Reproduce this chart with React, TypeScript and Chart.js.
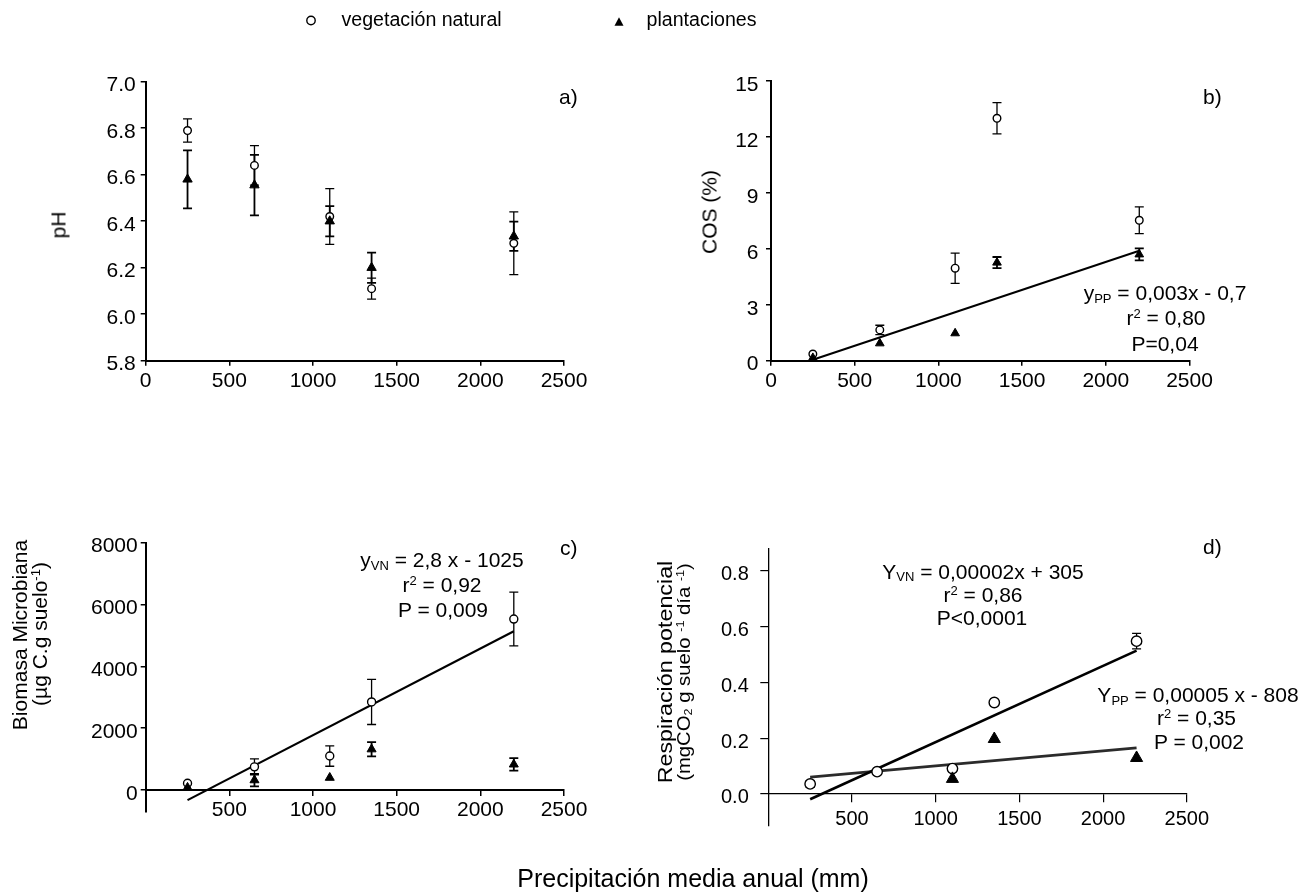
import React, { useEffect, useLayoutEffect, useRef, useState } from "react";
import { Chart, registerables } from "chart.js";

Chart.register(...registerables);

const FONT = "'Liberation Sans', Arial, Helvetica, sans-serif";
const W = 1308;
const H = 895;

// Mean annual precipitation of the five sites (mm)
const precipitation = [250, 650, 1100, 1350, 2200];

// a) pH
const phNatural = [6.79, 6.64, 6.42, 6.11, 6.305];
const phNaturalErr = [0.05, 0.085, 0.12, 0.045, 0.135];
const phPlantation = [6.58, 6.555, 6.4, 6.2, 6.335];
const phPlantationErr = [0.125, 0.13, 0.065, 0.065, 0.063];

// b) soil organic carbon (%)
const cosNatural = [0.36, 1.65, 4.96, 13.0, 7.53];
const cosNaturalErr = [0, 0.25, 0.81, 0.84, 0.72];
const cosPlantation = [0.15, 0.93, 1.47, 5.26, 5.7];
const cosPlantationErr = [0, 0, 0, 0.3, 0.32];
const cosFitX = [250, 2200];
const cosFitY = [0.05, 5.9]; // y = 0,003x - 0,7

// c) microbial biomass
const biomassNatural = [220, 750, 1100, 2850, 5530];
const biomassNaturalErr = [0, 260, 330, 730, 870];
const biomassPlantation = [80, 320, 400, 1320, 830];
const biomassPlantationErr = [0, 200, 0, 230, 200];
const biomassFitX = [250, 2200];
const biomassFitY = [-325, 5135]; // y = 2,8x - 1025

// d) potential respiration
const respNatural = [0.036, 0.08, 0.091, 0.328, 0.548];
const respNaturalErr = [0.012, 0, 0, 0, 0.028];
const respPlantation: (number | null)[] = [null, null, 0.054, 0.197, 0.129];
const respPlantationErr = [0, 0, 0, 0, 0];
const respFitX = [250, 2200];
const respFitNaturalY = [-0.019, 0.514];
const respFitPlantationY = [0.06, 0.165];

// Tick labels
const xTicksFrom0 = [0, 500, 1000, 1500, 2000, 2500];
const xTicksFrom500 = [500, 1000, 1500, 2000, 2500];
const phTicks = [5.8, 6.0, 6.2, 6.4, 6.6, 6.8, 7.0];
const cosTicks = [0, 3, 6, 9, 12, 15];
const biomassTicks = [0, 2000, 4000, 6000, 8000];
const respTicks = [0, 0.2, 0.4, 0.6, 0.8];

type Fit = { x: number[]; y: number[]; color: string; width: number };
type PanelSpec = {
  area: { left: number; right: number; top: number; bottom: number };
  yMin: number;
  yMax: number;
  yTicks: number[];
  yDecimals: number;
  xTicks: number[];
  xAtZero: boolean;
  tickLen: number;
  yPad: number;
  xPad: number;
  fontSize: number;
  axisWidth: number;
  tickWidth: number;
  natural: (number | null)[];
  naturalErr: number[];
  plantation: (number | null)[];
  plantationErr: number[];
  circleR: number;
  triR: number;
  fits: Fit[];
};

const Y_W = 80;
const X_H = 45;

const panels: PanelSpec[] = [
  {
    area: { left: 145.7, right: 564, top: 81.7, bottom: 360.7 },
    yMin: 5.8, yMax: 7.0, yTicks: phTicks, yDecimals: 1,
    xTicks: xTicksFrom0, xAtZero: false,
    tickLen: 5, yPad: 5, xPad: 2.5, fontSize: 21, axisWidth: 2, tickWidth: 1.5,
    natural: phNatural, naturalErr: phNaturalErr,
    plantation: phPlantation, plantationErr: phPlantationErr,
    circleR: 3.8, triR: 5.4, fits: [],
  },
  {
    area: { left: 771, right: 1189.5, top: 81, bottom: 360.7 },
    yMin: 0, yMax: 15, yTicks: cosTicks, yDecimals: 0,
    xTicks: xTicksFrom0, xAtZero: false,
    tickLen: 5, yPad: 7.5, xPad: 2.5, fontSize: 21, axisWidth: 2, tickWidth: 1.5,
    natural: cosNatural, naturalErr: cosNaturalErr,
    plantation: cosPlantation, plantationErr: cosPlantationErr,
    circleR: 3.8, triR: 5, fits: [{ x: cosFitX, y: cosFitY, color: "#000", width: 2 }],
  },
  {
    area: { left: 145.7, right: 564, top: 542.7, bottom: 811.7 },
    yMin: -700, yMax: 8000, yTicks: biomassTicks, yDecimals: 0,
    xTicks: xTicksFrom500, xAtZero: true,
    tickLen: 5, yPad: 3, xPad: 2.2, fontSize: 21, axisWidth: 2, tickWidth: 1.5,
    natural: biomassNatural, naturalErr: biomassNaturalErr,
    plantation: biomassPlantation, plantationErr: biomassPlantationErr,
    circleR: 4, triR: 5.2, fits: [{ x: biomassFitX, y: biomassFitY, color: "#000", width: 2.2 }],
  },
  {
    area: { left: 768.3, right: 1186.8, top: 548.3, bottom: 826 },
    yMin: -0.115, yMax: 0.881, yTicks: respTicks, yDecimals: 1,
    xTicks: xTicksFrom500, xAtZero: true,
    tickLen: 8, yPad: 11.5, xPad: 5.5, fontSize: 20, axisWidth: 1.3, tickWidth: 1.2,
    natural: respNatural, naturalErr: respNaturalErr,
    plantation: respPlantation, plantationErr: respPlantationErr,
    circleR: 5.2, triR: 7,
    fits: [
      { x: respFitX, y: respFitNaturalY, color: "#000", width: 2.6 },
      { x: respFitX, y: respFitPlantationY, color: "#2b2b2b", width: 2.8 },
    ],
  },
];

function points(values: (number | null)[]) {
  return values
    .map((v, i) => (v == null ? null : { x: precipitation[i], y: v }))
    .filter((p) => p !== null) as { x: number; y: number }[];
}

function makeChart(canvas: HTMLCanvasElement, p: PanelSpec) {
  // vertical error bars with caps, drawn underneath the markers
  const errorBars = {
    id: "errorBars",
    beforeDatasetsDraw(chart: any) {
      const { ctx, scales } = chart;
      const xs = scales.x;
      const ys = scales.y;
      const series = [
        { v: p.natural, e: p.naturalErr, w: 1.3 },
        { v: p.plantation, e: p.plantationErr, w: 1.8 },
      ];
      ctx.save();
      ctx.strokeStyle = "#000";
      for (const s of series) {
        ctx.lineWidth = s.w;
        s.v.forEach((v, i) => {
          const e = s.e[i];
          if (v == null || !e) return;
          const px = xs.getPixelForValue(precipitation[i]);
          const y1 = ys.getPixelForValue(v + e);
          const y2 = ys.getPixelForValue(v - e);
          ctx.beginPath();
          ctx.moveTo(px, y1);
          ctx.lineTo(px, y2);
          ctx.moveTo(px - 4.5, y1);
          ctx.lineTo(px + 4.5, y1);
          ctx.moveTo(px - 4.5, y2);
          ctx.lineTo(px + 4.5, y2);
          ctx.stroke();
        });
      }
      ctx.restore();
    },
  };

  const grid = {
    display: true,
    drawOnChartArea: false,
    drawTicks: true,
    tickLength: p.tickLen,
    color: "#000",
    lineWidth: p.tickWidth,
  };
  const border = { display: true, color: "#000", width: p.axisWidth };
  const font = { family: FONT, size: p.fontSize };

  return new Chart(canvas, {
    type: "scatter",
    data: {
      datasets: [
        ...p.fits.map((f) => ({
          type: "line" as const,
          data: f.x.map((xv, i) => ({ x: xv, y: f.y[i] })),
          borderColor: f.color,
          borderWidth: f.width,
          pointRadius: 0,
          fill: false,
          order: 3,
        })),
        {
          label: "vegetación natural",
          data: points(p.natural),
          pointStyle: "circle",
          pointRadius: p.circleR,
          pointBackgroundColor: "#fff",
          pointBorderColor: "#000",
          pointBorderWidth: 1.4,
          order: 2,
        },
        {
          label: "plantaciones",
          data: points(p.plantation),
          pointStyle: "triangle",
          pointRadius: p.triR,
          pointBackgroundColor: "#000",
          pointBorderColor: "#000",
          pointBorderWidth: 1,
          order: 1,
        },
      ] as any,
    },
    options: {
      animation: false,
      responsive: false,
      devicePixelRatio: 1,
      events: [],
      layout: {
        padding: {
          left: p.area.left - Y_W,
          right: W - p.area.right,
          top: p.area.top,
          bottom: p.xAtZero ? H - p.area.bottom : H - p.area.bottom - X_H,
        },
      },
      plugins: { legend: { display: false }, tooltip: { enabled: false } },
      scales: {
        x: {
          type: "linear",
          min: 0,
          max: 2500,
          position: (p.xAtZero ? { y: 0 } : "bottom") as any,
          afterFit: (s: any) => {
            if (!p.xAtZero) s.height = X_H;
          },
          afterBuildTicks: (s: any) => {
            s.ticks = p.xTicks.map((v) => ({ value: v }));
          },
          grid,
          border,
          ticks: {
            color: "#000",
            font,
            padding: p.xPad,
            maxRotation: 0,
            autoSkip: false,
            callback: (v: any) => String(v),
          },
        },
        y: {
          type: "linear",
          min: p.yMin,
          max: p.yMax,
          afterFit: (s: any) => {
            s.width = Y_W;
          },
          afterBuildTicks: (s: any) => {
            s.ticks = p.yTicks.map((v) => ({ value: v }));
          },
          grid,
          border,
          ticks: {
            color: "#000",
            font,
            padding: p.yPad,
            labelOffset: 4,
            autoSkip: false,
            callback: (v: any) => Number(v).toFixed(p.yDecimals),
          },
        },
      },
    },
    plugins: [errorBars],
  } as any);
}

function Panel({ spec }: { spec: PanelSpec }) {
  const ref = useRef<HTMLCanvasElement>(null);
  useEffect(() => {
    const chart = makeChart(ref.current!, spec);
    return () => chart.destroy();
  }, [spec]);
  return (
    <canvas
      ref={ref}
      width={W}
      height={H}
      style={{ position: "absolute", left: 0, top: 0, width: W, height: H }}
    />
  );
}

// Text placed by its baseline (line box = font size, Liberation Sans metrics)
function Txt({
  x, base, size, center, children,
}: { x: number; base: number; size: number; center?: boolean; children: React.ReactNode }) {
  return (
    <div
      style={{
        position: "absolute",
        left: x,
        top: base - 0.8465 * size,
        fontSize: size,
        lineHeight: `${size}px`,
        whiteSpace: "nowrap",
        transform: center ? "translateX(-50%)" : undefined,
      }}
    >
      {children}
    </div>
  );
}

// Vertical (rotated) text centred at (cx, cy); optionally stretched along the
// reading direction to a given length
function VTxt({
  cx, cy, size, length, children,
}: { cx: number; cy: number; size: number; length?: number; children: React.ReactNode }) {
  const ref = useRef<HTMLDivElement>(null);
  const [sx, setSx] = useState(1);
  useLayoutEffect(() => {
    if (length && ref.current && ref.current.offsetWidth > 0) {
      setSx(length / ref.current.offsetWidth);
    }
  }, [length]);
  return (
    <div
      ref={ref}
      style={{
        position: "absolute",
        left: cx,
        top: cy,
        fontSize: size,
        lineHeight: `${size}px`,
        whiteSpace: "nowrap",
        transform: `translate(-50%, -50%) rotate(-90deg) scaleX(${sx})`,
      }}
    >
      {children}
    </div>
  );
}

const Sub = ({ children }: { children: React.ReactNode }) => (
  <span style={{ fontSize: "0.62em", position: "relative", top: "0.2em" }}>{children}</span>
);
const Sup = ({ children }: { children: React.ReactNode }) => (
  <span style={{ fontSize: "0.62em", position: "relative", top: "-0.55em" }}>{children}</span>
);

export default function App() {
  return (
    <div
      style={{
        position: "absolute",
        left: 0,
        top: 0,
        width: W,
        height: H,
        overflow: "hidden",
        background: "#fff",
        color: "#000",
        fontFamily: FONT,
      }}
    >
      {panels.map((p, i) => (
        <Panel key={i} spec={p} />
      ))}

      {/* legend */}
      <svg width={W} height={40} style={{ position: "absolute", left: 0, top: 0 }}>
        <circle cx={311} cy={20.5} r={4.2} fill="#fff" stroke="#000" strokeWidth={1.4} />
        <polygon points="614.5,25.8 623.5,25.8 619,17.2" fill="#000" />
      </svg>
      <Txt x={341.5} base={26.5} size={19.6}>vegetación natural</Txt>
      <Txt x={646.5} base={26.5} size={19.6}>plantaciones</Txt>

      {/* panel letters */}
      <Txt x={559} base={104} size={21}>a)</Txt>
      <Txt x={1203} base={104} size={21}>b)</Txt>
      <Txt x={560} base={555} size={21}>c)</Txt>
      <Txt x={1203} base={554} size={21}>d)</Txt>

      {/* y axis titles */}
      <VTxt cx={57.5} cy={225} size={21}>pH</VTxt>
      <VTxt cx={709.3} cy={212} size={21}>COS (%)</VTxt>
      <VTxt cx={19.4} cy={635} size={21}>Biomasa Microbiana</VTxt>
      <VTxt cx={41} cy={634} size={21}>
        (µg C.g suelo<Sup>-1</Sup>)
      </VTxt>
      <VTxt cx={666} cy={671.5} size={19.5} length={222}>Respiración potencial</VTxt>
      <VTxt cx={685.5} cy={672.4} size={17.5} length={218}>
        (mgCO<Sub>2</Sub> g suelo <Sup>-1</Sup> día <Sup>-1</Sup>)
      </VTxt>

      {/* regression equations */}
      <Txt x={1165} base={300} size={21} center>
        y<Sub>PP</Sub> = 0,003x - 0,7
      </Txt>
      <Txt x={1166} base={325} size={21} center>
        r<Sup>2</Sup> = 0,80
      </Txt>
      <Txt x={1165} base={350.5} size={21} center>P=0,04</Txt>

      <Txt x={442} base={566.7} size={21} center>
        y<Sub>VN</Sub> = 2,8 x - 1025
      </Txt>
      <Txt x={442} base={591.7} size={21} center>
        r<Sup>2</Sup> = 0,92
      </Txt>
      <Txt x={443} base={616.7} size={21} center>P = 0,009</Txt>

      <Txt x={983} base={578.3} size={21} center>
        Y<Sub>VN</Sub> = 0,00002x + 305
      </Txt>
      <Txt x={983} base={601.7} size={21} center>
        r<Sup>2</Sup> = 0,86
      </Txt>
      <Txt x={982} base={625} size={21} center>P&lt;0,0001</Txt>

      <Txt x={1198} base={701.7} size={21} center>
        Y<Sub>PP</Sub> = 0,00005 x - 808
      </Txt>
      <Txt x={1196.5} base={725} size={21} center>
        r<Sup>2</Sup> = 0,35
      </Txt>
      <Txt x={1199} base={748.5} size={21} center>P = 0,002</Txt>

      {/* shared x axis title */}
      <Txt x={693} base={887.3} size={25} center>Precipitación media anual (mm)</Txt>
    </div>
  );
}
